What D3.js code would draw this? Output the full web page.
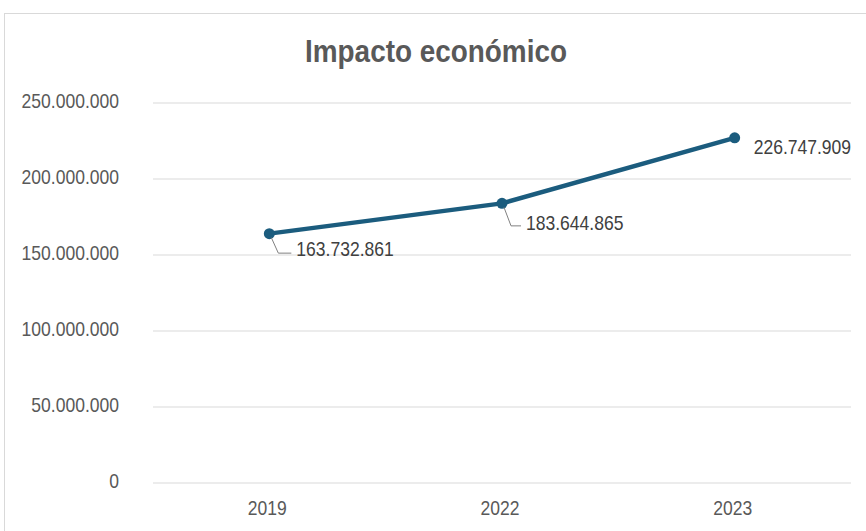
<!DOCTYPE html>
<html>
<head>
<meta charset="utf-8">
<script src="https://cdn.jsdelivr.net/npm/d3@7"></script>
<style>
  html, body { margin: 0; padding: 0; background: #fff; }
  svg { display: block; }
</style>
</head>
<body>
<svg id="chart" width="866" height="531"></svg>
<script>
// données
const years  = ['2019', '2022', '2023']
const values = [163732861, 183644865, 226747909]
const yTicks = [0, 50000000, 100000000, 150000000, 200000000, 250000000]

const W = 866, H = 531
const FONT = '"Liberation Sans", Arial, sans-serif'
const SX = 0.835   // police condensée (type Arial Narrow) simulée par un scaleX
const svg = d3.select('#chart')

// cadre du graphique
svg.append('rect')
  .attr('x', 4.5).attr('y', 13.5)
  .attr('width', W + 10).attr('height', H + 10)
  .attr('fill', '#fff').attr('stroke', '#d9d9d9').attr('stroke-width', 1)

const plot = { left: 153, right: 851, top: 102.5, bottom: 482.5 }

const x = d3.scaleBand().domain(years).range([plot.left, plot.right])
const y = d3.scaleLinear().domain([0, 250000000]).range([plot.bottom, plot.top])

const fmt = v => d3.format(',')(v).replace(/,/g, '.')

// texte condensé : translate puis scaleX
function ctext(parent, tx, ty, str, opt) {
  return parent.append('text')
    .attr('transform', `translate(${tx},${ty}) scale(${opt.sx || SX},1)`)
    .attr('text-anchor', opt.anchor || 'start')
    .attr('font-family', FONT).attr('font-size', opt.size || 21)
    .attr('font-weight', opt.weight || 'normal')
    .attr('fill', opt.fill || '#595959')
    .text(str)
}

// titre
const title = ctext(svg, 436, 62, 'Impacto económico', { size: 31, weight: 'bold', sx: 1, anchor: 'middle' })
const tw = title.node().getComputedTextLength()
title.attr('transform', `translate(436,62) scale(${262 / tw},1)`)

// grille + libellés Y
const yAxis = d3.axisLeft(y).tickValues(yTicks)
  .tickSize(-(plot.right - plot.left))
  .tickFormat(v => v === 0 ? '0' : fmt(v))
const gy = svg.append('g').attr('transform', `translate(${plot.left},0)`).call(yAxis)
gy.select('.domain').remove()
gy.selectAll('.tick line').attr('stroke', '#d9d9d9').attr('stroke-width', 1)
gy.selectAll('.tick text')
  .attr('x', 0).attr('dy', '0.35em')
  .attr('transform', `translate(-34,-2.5) scale(${SX},1)`)
  .attr('font-family', FONT).attr('font-size', 21).attr('fill', '#595959')

// axe X
const xAxis = d3.axisBottom(x).tickSize(0).tickPadding(0)
const gx = svg.append('g').attr('transform', `translate(0,${plot.bottom})`).call(xAxis)
gx.select('.domain').remove()
gx.selectAll('.tick text')
  .attr('y', 0).attr('dy', 0)
  .attr('transform', `translate(-2,32) scale(${SX},1)`)
  .attr('font-family', FONT).attr('font-size', 21).attr('fill', '#595959')

const cx = i => x(years[i]) + x.bandwidth() / 2

// ligne
const line = d3.line().x((d, i) => cx(i)).y(d => y(d))
svg.append('path').datum(values)
  .attr('d', line)
  .attr('fill', 'none').attr('stroke', '#1b5c7e')
  .attr('stroke-width', 4.5).attr('stroke-linejoin', 'round')

svg.selectAll('circle.pt').data(values).join('circle')
  .attr('class', 'pt')
  .attr('cx', (d, i) => cx(i)).attr('cy', d => y(d))
  .attr('r', 5.5).attr('fill', '#1b5c7e')

// étiquettes + traits de rappel  [dx texte, dy centre texte, dy trait]
const labelOff = [[27, 15, 19.5], [24, 19, 22.5], [19, 9, 0]]
const leader   = [true, true, false]
values.forEach((v, i) => {
  const px = cx(i), py = y(v)
  const [dx, dy, ly] = labelOff[i]
  if (leader[i]) {
    svg.append('path')
      .attr('d', `M${px + 2},${py + 4} L${px + 9},${py + ly} L${px + dx - 5},${py + ly}`)
      .attr('fill', 'none').attr('stroke', '#808080').attr('stroke-width', 1)
  }
  ctext(svg, px + dx, py + dy + 7.5, fmt(v), { size: 21, fill: '#404040' })
})
</script>
</body>
</html>
